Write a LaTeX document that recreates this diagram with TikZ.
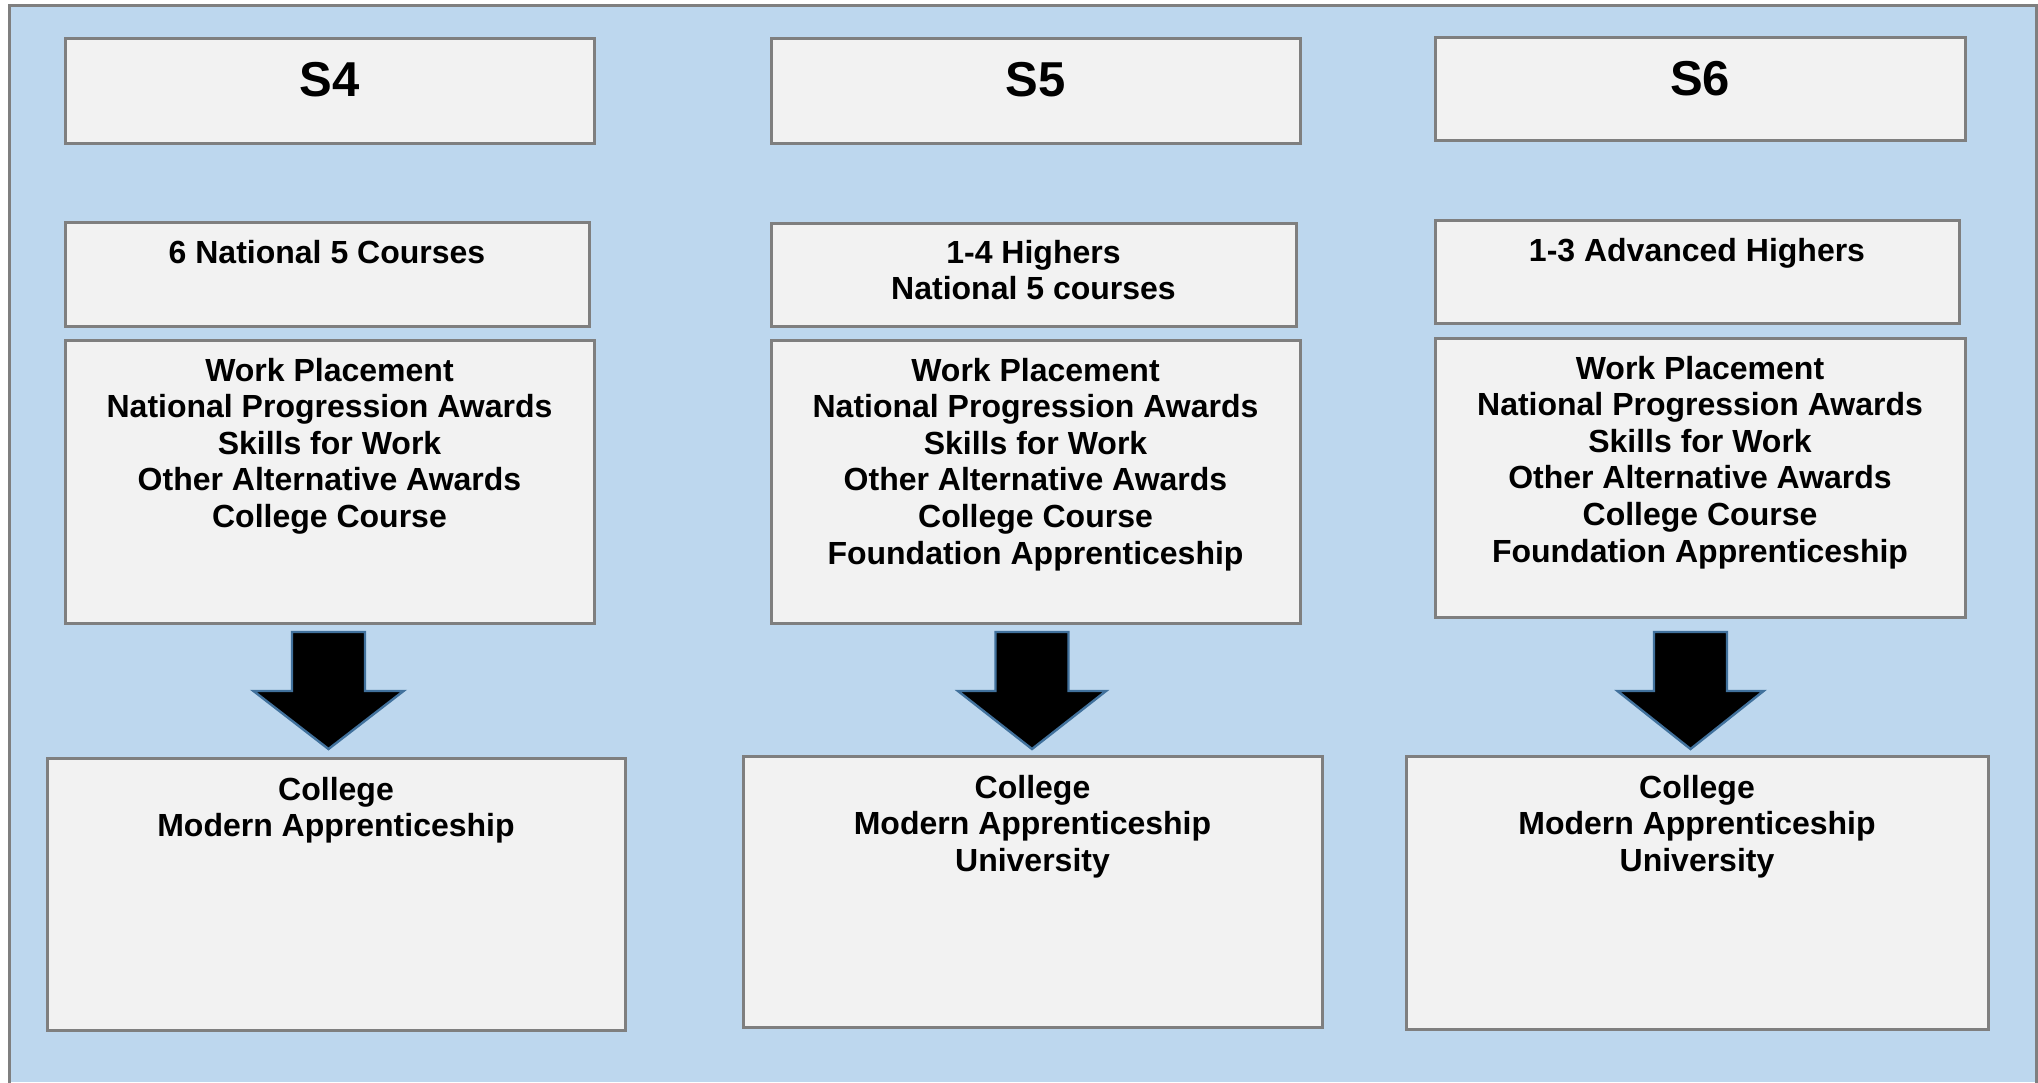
\documentclass[tikz,border=0pt]{standalone}
\usepackage{fontspec}
\setmainfont{Liberation Sans}
\usetikzlibrary{fit,calc}
\definecolor{bgblue}{HTML}{BDD7EE}
\definecolor{boxfill}{HTML}{F2F2F2}
\definecolor{boxline}{HTML}{7F7F7F}
\definecolor{arrline}{HTML}{41719C}
\tikzset{
  box/.style={draw=boxline, fill=boxfill, line width=1.5pt, inner sep=0pt, rectangle},
  txt/.style={inner sep=0pt, align=center, font=\bfseries\fontsize{16}{18.3}\selectfont, text=black},
  head/.style={inner sep=0pt, align=center, font=\bfseries\fontsize{24.5}{28}\selectfont, text=black},
  bigarrow/.style={fill=black, draw=arrline, line width=1.2pt, line join=miter}
}
\newcommand{\mkbox}[5]{\node[box, fit={(#2,#3)(#4,#5)}] (#1) {};}
\newcommand{\mkdownarrow}[4]{% center x, shaft half width, head half width, name
  \coordinate (#4top) at (#1,632);
  \draw[bigarrow] ($(#4top)+(-#2,0)$) -- ($(#4top)+(#2,0)$) -- ($(#4top)+(#2,59)$) -- ($(#4top)+(#3,59)$)
    -- ($(#4top)+(0,117)$) -- ($(#4top)+(-#3,59)$) -- ($(#4top)+(-#2,59)$) -- cycle;}
\begin{document}
\begin{tikzpicture}[x=0.5pt,y=-0.5pt]
\useasboundingbox (0,0) rectangle (2038,1082);
\fill[white] (0,0) rectangle (2038,1082);
\fill[bgblue] (9,5) rectangle (2036,1082);
\draw[boxline, line width=1.5pt] (9,1090) -- (9,5) -- (2036,5) -- (2036,1090);

% column S4
\mkbox{h4}{65}{38}{594}{143}
\mkbox{c4}{65}{222}{589}{326}
\mkbox{a4}{65}{340}{594}{623}
\mkbox{b4}{47}{758}{625}{1030}
% column S5
\mkbox{h5}{771}{38}{1300}{143}
\mkbox{c5}{771}{223}{1296}{326}
\mkbox{a5}{771}{340}{1300}{623}
\mkbox{b5}{743}{756}{1322}{1027}
% column S6
\mkbox{h6}{1435}{37}{1965}{140}
\mkbox{c6}{1435}{220}{1959}{323}
\mkbox{a6}{1435}{338}{1965}{617}
\mkbox{b6}{1406}{756}{1988}{1029}

% texts
\node[head, anchor=north] (h4t) at ($(h4.north)+(0,25)$) {S4};
\node[head, anchor=north] (h5t) at ($(h5.north)+(0,25)$) {S5};
\node[head, anchor=north] (h6t) at ($(h6.north)+(0,25)$) {S6};

\node[txt, anchor=north] (c4t) at ($(c4.north)+(0,19)$) {6 National 5 Courses};
\node[txt, anchor=north] (c5t) at ($(c5.north)+(0,18)$) {1-4 Highers\\National 5 courses};
\node[txt, anchor=north] (c6t) at ($(c6.north)+(0,19)$) {1-3 Advanced Highers};

\node[txt, anchor=north] (a4t) at ($(a4.north)+(0,19)$) {Work Placement\\National Progression Awards\\Skills for Work\\Other Alternative Awards\\College Course};
\node[txt, anchor=north] (a5t) at ($(a5.north)+(0,19)$) {Work Placement\\National Progression Awards\\Skills for Work\\Other Alternative Awards\\College Course\\Foundation Apprenticeship};
\node[txt, anchor=north] (a6t) at ($(a6.north)+(0,19)$) {Work Placement\\National Progression Awards\\Skills for Work\\Other Alternative Awards\\College Course\\Foundation Apprenticeship};

\node[txt, anchor=north] (b4t) at ($(b4.north)+(0,20)$) {College\\Modern Apprenticeship};
\node[txt, anchor=north] (b5t) at ($(b5.north)+(0,20)$) {College\\Modern Apprenticeship\\University};
\node[txt, anchor=north] (b6t) at ($(b6.north)+(0,20)$) {College\\Modern Apprenticeship\\University};

% arrows
\mkdownarrow{328.5}{36.5}{75}{ar4}
\mkdownarrow{1032}{36.5}{74}{ar5}
\mkdownarrow{1690.5}{36.5}{73}{ar6}
\end{tikzpicture}
\end{document}
